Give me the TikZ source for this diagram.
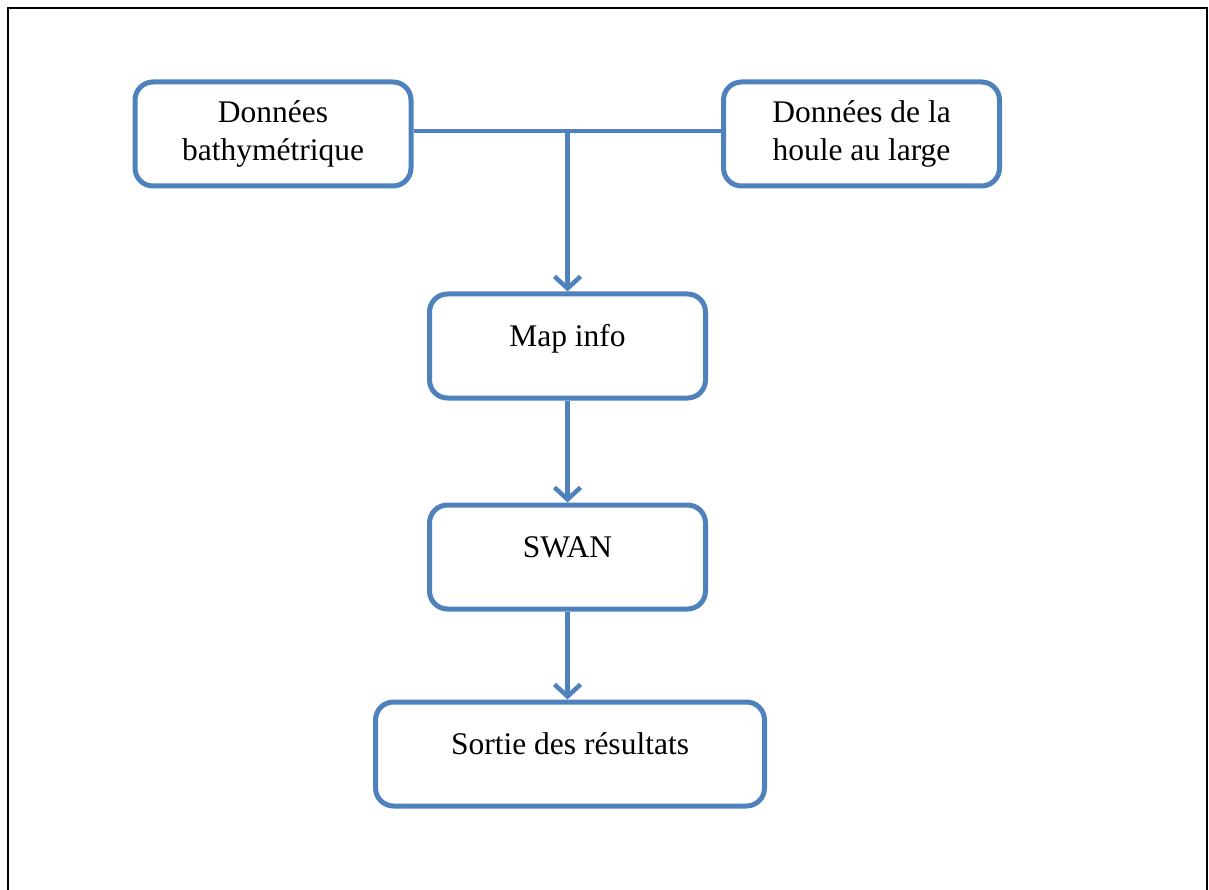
\documentclass[tikz,border=0pt]{standalone}
\usepackage{fontspec}
\setmainfont{Liberation Serif}
\usetikzlibrary{arrows.meta}
\definecolor{boxblue}{HTML}{4F81BD}

\begin{document}
\begin{tikzpicture}[x=1pt, y=-1pt,
  stepbox/.style={draw=boxblue, line width=5pt, rounded corners=18pt, fill=white,
    minimum width=276pt, minimum height=104pt, align=center,
    font=\fontsize{31.5}{38}\selectfont},
  lowbox/.style={stepbox, text height=22pt, text depth=22pt},
  link/.style={draw=boxblue, line width=4.5pt},
  flow/.style={link, -{Straight Barb[length=12pt, width=26pt]}}]
\def\cx{567.5}
\useasboundingbox (0,0) rectangle (1209,890);
%frame (open at the bottom)
\draw[line width=2pt] (8,892) -- (8,8) -- (1207,8) -- (1207,892);
%input boxes
\node[stepbox] (bathy) at (273, 134) {Donn\'ees\\bathym\'etrique};
\node[stepbox] (houle) at (861.5, 134) {Donn\'ees de la\\houle au large};
%chain
\node[lowbox] (map) at (\cx, 346) {Map info};
\node[lowbox] (swan) at (\cx, 557) {SWAN};
\node[lowbox, minimum width=389pt] (sortie) at (570, 754) {Sortie des r\'esultats};
%junction
\coordinate (jn) at (map.north |- 0,131);
\draw[link] (bathy.east |- jn) -- (houle.west |- jn);
\draw[flow] (jn) -- (map.north);
\draw[flow] (map.south) -- (swan.north);
\draw[flow] (swan.south) -- (swan.south |- sortie.north);
\end{tikzpicture}
\end{document}
